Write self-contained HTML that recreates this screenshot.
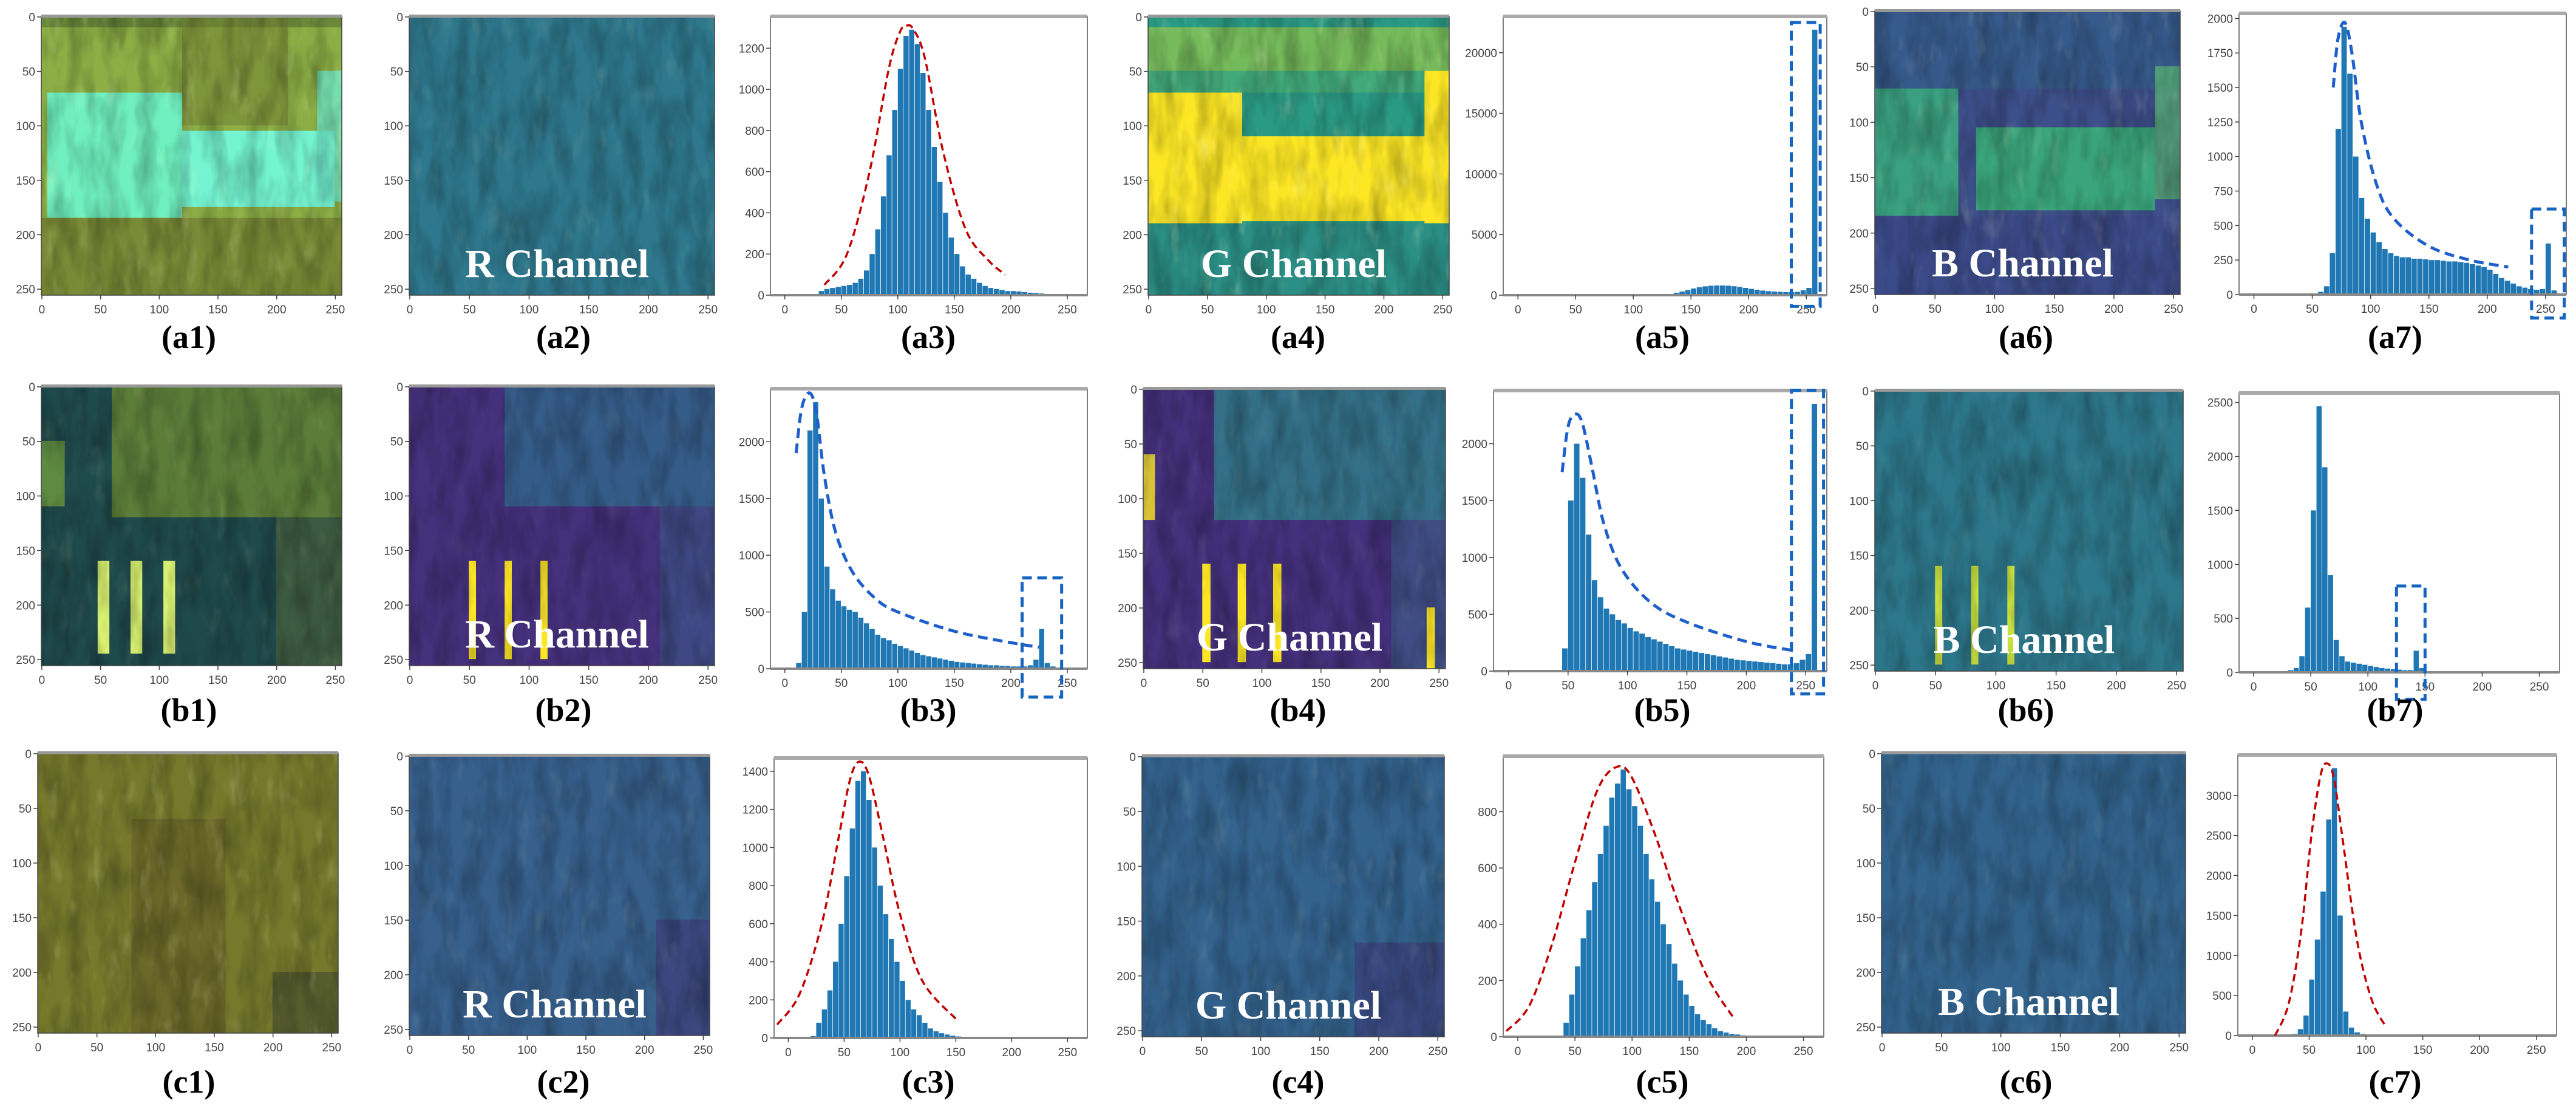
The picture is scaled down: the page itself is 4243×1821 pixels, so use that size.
<!DOCTYPE html>
<html><head><meta charset="utf-8"><title>Channel histograms</title>
<style>
html,body{margin:0;padding:0;background:#fff;}
svg{display:block;}
.tick{font-family:"Liberation Sans",sans-serif;font-size:19px;fill:#444;}
.lab{font-family:"Liberation Serif",serif;font-weight:bold;font-size:54px;fill:#000;}
.ch{font-family:"Liberation Serif",serif;font-weight:bold;font-size:66px;fill:#fff;}
</style></head>
<body>
<svg id="fig" width="4243" height="1821" viewBox="0 0 4243 1821" xmlns="http://www.w3.org/2000/svg">
<defs>
<filter id="tex" x="0" y="0" width="100%" height="100%">
<feTurbulence type="fractalNoise" baseFrequency="0.035 0.012" numOctaves="3" seed="4"/>
<feColorMatrix type="matrix" values="0 0 0 0 0  0 0 0 0 0  0 0 0 0 0  0 0 0 -1.4 0.9"/>
</filter>
<filter id="tex2" x="0" y="0" width="100%" height="100%">
<feTurbulence type="fractalNoise" baseFrequency="0.04 0.015" numOctaves="3" seed="9"/>
<feColorMatrix type="matrix" values="0 0 0 0 1  0 0 0 0 1  0 0 0 0 0.6  0 0 0 2.2 -1.3"/>
</filter>
</defs>
</svg>
<script>
// ---------- histogram data (bin width 5, bins start at 0) ----------
const binStarts = [0,5,10,15,20,25,30,35,40,45,50,55,60,65,70,75,80,85,90,95,100,105,110,115,120,125,130,135,140,145,150,155,160,165,170,175,180,185,190,195,200,205,210,215,220,225,230,235,240,245,250,255];
const xTicks = [0,50,100,150,200,250];
const imgTicks = [0,50,100,150,200,250];
const a3Counts = [0,0,0,0,0,0,20,30,35,40,45,50,60,80,120,200,320,480,680,900,1100,1260,1290,1220,1080,900,720,550,400,280,200,140,100,80,60,45,35,30,25,20,20,18,15,12,10,8,5,3,1,0,0,0];
const a5Counts = [0,0,0,0,0,0,0,0,0,0,0,0,0,0,0,0,0,0,0,0,0,0,0,0,20,50,100,200,300,420,550,650,730,780,800,800,780,740,680,600,520,450,380,330,300,280,260,250,280,400,600,21900];
const a7Counts = [0,0,0,0,0,0,0,0,0,0,0,20,60,300,1200,1940,1600,1000,700,550,450,380,330,300,280,270,270,260,260,255,250,250,245,240,240,235,230,220,210,200,180,150,120,100,80,60,50,40,35,40,370,30];
const b3Counts = [0,0,50,500,2100,2350,1500,900,700,600,550,520,500,450,400,350,300,270,250,220,200,180,160,140,120,110,100,90,80,70,60,55,50,45,40,35,30,30,25,25,20,20,20,30,80,350,50,20,0,0,0,0];
const b5Counts = [0,0,0,0,0,0,0,0,0,200,1500,2000,1700,1200,800,650,550,500,450,420,380,350,330,300,280,260,240,220,200,190,180,170,160,150,140,130,120,110,100,95,90,85,80,75,70,65,60,60,70,100,150,2350];
const b7Counts = [0,0,0,0,0,10,20,40,150,600,1500,2465,1900,900,300,150,100,90,80,70,60,50,40,35,30,25,20,20,200,40,10,5,2,0,0,0,0,0,0,0,0,0,0,0,0,0,0,0,0,0,0,0];
const c3Counts = [0,0,0,0,10,80,150,250,400,600,850,1100,1350,1400,1250,1000,800,650,520,400,300,200,150,120,80,50,35,25,18,12,8,5,3,2,1,0,0,0,0,0,0,0,0,0,0,0,0,0,0,0,0,0];
const c5Counts = [0,0,0,0,0,0,0,0,50,150,250,350,450,550,650,750,850,900,950,880,820,750,650,560,480,400,330,260,200,150,110,80,60,45,30,20,15,10,8,5,3,2,1,0,0,0,0,0,0,0,0,0];
const c7Counts = [0,0,0,0,0,0,0,20,80,250,700,1200,1800,2700,3340,1500,300,100,40,20,10,5,0,0,0,0,0,0,0,0,0,0,0,0,0,0,0,0,0,0,0,0,0,0,0,0,0,0,0,0,0,0];
// y tick labels
const a3YTicks = [0,200,400,600,800,1000,1200];
const a5YTicks = [0,5000,10000,15000,20000];
const a7YTicks = [0,250,500,750,1000,1250,1500,1750,2000];
const b3YTicks = [0,500,1000,1500,2000];
const b5YTicks = [0,500,1000,1500,2000];
const b7YTicks = [0,500,1000,1500,2000,2500];
const c3YTicks = [0,200,400,600,800,1000,1200,1400];
const c5YTicks = [0,200,400,600,800];
const c7YTicks = [0,500,1000,1500,2000,2500,3000];
// dashed envelope annotations (x value, count)
const a3CurveX = [35,55,75,92,102,108,114,124,140,160,180,195];
const a3CurveY = [50,200,600,1100,1280,1310,1290,1150,700,320,170,100];
const a7CurveX = [68,72,78,84,92,105,120,150,185,218];
const a7CurveY = [1500,1850,1970,1750,1250,800,550,350,250,200];
const b3CurveX = [10,15,22,28,35,45,60,80,100,150,200,225];
const b3CurveY = [1900,2300,2430,2250,1700,1200,850,620,500,330,230,190];
const b5CurveX = [45,50,56,62,70,80,95,120,150,200,240];
const b5CurveY = [1750,2150,2260,2180,1800,1300,900,600,430,260,180];
const c3CurveX = [-10,10,30,45,55,63,72,85,100,120,150];
const c3CurveY = [70,230,600,1050,1350,1450,1380,1050,650,300,100];
const c5CurveX = [-10,10,30,50,70,87,100,120,140,165,190];
const c5CurveY = [20,110,330,620,880,960,920,720,480,220,60];
const c7CurveX = [20,32,43,52,60,66,72,80,92,105,118];
const c7CurveY = [0,400,1300,2500,3250,3400,3200,2400,1200,450,100];
// highlight boxes [xmin,xmax,ymin,ymax] in data units
const a5Box = [237,262,-920,22490];
const a7Box = [238,266,-170,620];
const b3Box = [210,245,-250,800];
const b5Box = [238,265,-200,2470];
const b7Box = [125,150,-250,800];

const NS='http://www.w3.org/2000/svg';
const svg=document.getElementById('fig');
function mk(tag,attrs,parent){const e=document.createElementNS(NS,tag);for(const k in attrs)e.setAttribute(k,attrs[k]);(parent||svg).appendChild(e);return e;}
function smoothPath(P){
  let d='M'+P[0][0]+','+P[0][1];
  for(let i=0;i<P.length-1;i++){
    const p0=P[Math.max(i-1,0)],p1=P[i],p2=P[i+1],p3=P[Math.min(i+2,P.length-1)];
    const c1x=p1[0]+(p2[0]-p0[0])/6,c1y=p1[1]+(p2[1]-p0[1])/6;
    const c2x=p2[0]-(p3[0]-p1[0])/6,c2y=p2[1]-(p3[1]-p1[1])/6;
    d+=' C'+c1x+','+c1y+' '+c2x+','+c2y+' '+p2[0]+','+p2[1];
  }
  return d;
}

function drawHist(id,box,counts,yticks,cx,cy,color,hbox,labelX,labelY,label){
  const [x0,x1,y0,y1]=box;
  const g=mk('g',{});
  
  
  const ymax=Math.max(...counts)*1.05;
  const xmin=-12.75,xmax=267.75;
  const sx=v=>x0+(v-xmin)/(xmax-xmin)*(x1-x0);
  const sy=v=>y1-v/ymax*(y1-y0);
  mk('rect',{x:x0,y:y0,width:x1-x0,height:y1-y0,fill:'#fff',stroke:'#555','stroke-width':1.5},g);
  mk('rect',{x:x0,y:y0-3,width:x1-x0,height:6,fill:'#aaa'},g);
  counts.forEach((c,i)=>{
    if(c<=0)return;
    const bx=sx(binStarts[i]),bw=sx(binStarts[i]+5)-bx;
    const r=mk('rect',{x:bx,y:sy(c),width:Math.max(bw-0.8,1),height:y1-sy(c),fill:'#1f77b4'},g);
    
    
  });
  mk('line',{x1:x0,y1:y1,x2:x1,y2:y1,stroke:'#888','stroke-width':4},g);
  xTicks.forEach(t=>{
    mk('line',{x1:sx(t),y1:y1,x2:sx(t),y2:y1+7,stroke:'#444','stroke-width':1.5},g);
    const tx=mk('text',{x:sx(t),y:y1+30,'text-anchor':'middle',class:'tick'},g);tx.textContent=t;
  });
  yticks.forEach(t=>{
    mk('line',{x1:x0-7,y1:sy(t),x2:x0,y2:sy(t),stroke:'#444','stroke-width':1.5},g);
    const tx=mk('text',{x:x0-10,y:sy(t)+7,'text-anchor':'end',class:'tick'},g);tx.textContent=t;
  });
  if(cx){
    const P=cx.map((v,i)=>[sx(v),sy(cy[i])]);
    const red=color==='#c00000';
    const p=mk('path',{d:smoothPath(P),fill:'none',stroke:color,'stroke-width':red?3.5:5,'stroke-dasharray':red?'12 7':'16 9','stroke-linejoin':'round'},g);
    
    
  }
  if(hbox){
    const r=mk('rect',{x:sx(hbox[0]),y:sy(hbox[3]),width:sx(hbox[1])-sx(hbox[0]),height:sy(hbox[2])-sy(hbox[3]),fill:'none',stroke:'#1565c0','stroke-width':5,'stroke-dasharray':'16 9'},g);
    
    
  }
  const l=mk('text',{x:labelX,y:labelY,'text-anchor':'middle',class:'lab'});
  l.textContent=label;
  
  
}

function drawImg(id,box,base,patches,channel,labelX,labelY,label,bright){
  const [x0,x1,y0,y1]=box;
  const g=mk('g',{});
  
  
  const sx=v=>x0+v/256*(x1-x0), sy=v=>y0+v/256*(y1-y0);
  mk('rect',{x:x0,y:y0,width:x1-x0,height:y1-y0,fill:base},g);
  patches.forEach(p=>{mk('rect',{x:sx(p[0]),y:sy(p[1]),width:sx(p[2])-sx(p[0]),height:sy(p[3])-sy(p[1]),fill:p[4],opacity:p[5]||1},g);});
  mk('rect',{x:x0,y:y0,width:x1-x0,height:y1-y0,fill:'#000',filter:'url(#tex)',opacity:0.35},g);
  if(bright) mk('rect',{x:x0,y:y0,width:x1-x0,height:y1-y0,fill:'#fff',filter:'url(#tex2)',opacity:bright},g);
  mk('rect',{x:x0,y:y0,width:x1-x0,height:y1-y0,fill:'none',stroke:'#444','stroke-width':1.5},g);
  mk('rect',{x:x0,y:y0-3,width:x1-x0,height:5,fill:'#999'},g);
  imgTicks.forEach(t=>{
    mk('line',{x1:sx(t+0.5),y1:y1,x2:sx(t+0.5),y2:y1+7,stroke:'#444','stroke-width':1.5},g);
    const a=mk('text',{x:sx(t+0.5),y:y1+30,'text-anchor':'middle',class:'tick'},g);a.textContent=t;
    mk('line',{x1:x0-7,y1:sy(t+0.5),x2:x0,y2:sy(t+0.5),stroke:'#444','stroke-width':1.5},g);
    const b=mk('text',{x:x0-10,y:sy(t+0.5)+7,'text-anchor':'end',class:'tick'},g);b.textContent=t;
  });
  if(channel){
    const c=mk('text',{x:(x0+x1)/2-8,y:y1-30,'text-anchor':'middle',class:'ch'},g);
    c.textContent=channel;
    
    
  }
  const l=mk('text',{x:labelX,y:labelY,'text-anchor':'middle',class:'lab'});
  l.textContent=label;
  
  
}

// Row a
drawImg('a1',[68,563,27,486],'#8cae45',[[0,0,256,10,'#6a8a3a'],[5,70,120,185,'#70f0c0'],[120,105,250,175,'#74f4d0'],[235,50,256,170,'#70e8c8',0.8],[0,185,256,256,'#7a8a36'],[120,0,210,100,'#6f7d32',0.5]],null,311,573,'(a1)',0.25);
drawImg('a2',[674,1177,27,486],'#2f7a8c',[[0,0,256,256,'#2d6f8e',0.3]],'R Channel',928,573,'(a2)',0.15);
drawHist('a3',[1269,1791,27,486],a3Counts,a3YTicks,a3CurveX,a3CurveY,'#c00000',null,1529,573,'(a3)');
drawImg('a4',[1891,2387,27,486],'#2a9a84',[[0,10,256,50,'#a8d040',0.6],[0,50,256,70,'#5ab870',0.5],[0,70,80,190,'#fde725'],[80,110,256,188,'#fde725'],[235,50,256,190,'#fde725'],[0,190,256,256,'#2c8a86',0.7]],'G Channel',2138,573,'(a4)',0.3);
drawHist('a5',[2476,3009,27,486],a5Counts,a5YTicks,null,null,null,a5Box,2738,573,'(a5)');
drawImg('a6',[3088,3591,18,485],'#3d4f8a',[[0,0,256,70,'#32628c',0.6],[0,70,70,185,'#3aa080'],[85,105,235,180,'#3aa47c'],[235,50,256,170,'#5ab870',0.7],[0,185,256,256,'#3b4a88']],'B Channel',3337,573,'(a6)',0.2);
drawHist('a7',[3688,4227,22,485],a7Counts,a7YTicks,a7CurveX,a7CurveY,'#1f5fcc',a7Box,3945,573,'(a7)');
// Row b
drawImg('b1',[68,563,636,1096],'#1f4a4c',[[60,0,256,120,'#6a8a34',0.8],[0,50,20,110,'#8ab63a',0.6],[200,120,256,256,'#5a6a36',0.5],[48,160,58,245,'#d8f070'],[76,160,86,245,'#d8f070'],[104,160,114,245,'#d8f070']],null,311,1187,'(b1)',0.12);
drawImg('b2',[674,1177,636,1096],'#45307c',[[80,0,256,110,'#2f6f8e',0.7],[210,110,256,256,'#3a5f8c',0.5],[50,160,56,250,'#fde725'],[80,160,86,250,'#fde725'],[110,160,116,250,'#fde725']],'R Channel',928,1187,'(b2)',0.06);
drawHist('b3',[1269,1791,640,1101],b3Counts,b3YTicks,b3CurveX,b3CurveY,'#1f5fcc',b3Box,1529,1187,'(b3)');
drawImg('b4',[1883,2381,640,1101],'#44307c',[[60,0,256,120,'#2f7f8a',0.8],[0,60,10,120,'#fde725',0.8],[210,110,256,256,'#3a6a8c',0.5],[50,160,57,250,'#fde725'],[80,160,87,250,'#fde725'],[110,160,117,250,'#fde725'],[240,200,247,256,'#fde725']],'G Channel',2138,1187,'(b4)',0.1);
drawHist('b5',[2460,3009,643,1105],b5Counts,b5YTicks,b5CurveX,b5CurveY,'#1f5fcc',b5Box,2738,1187,'(b5)');
drawImg('b6',[3088,3596,643,1105],'#2f7a8c',[[0,0,256,256,'#2c6f8a',0.3],[50,160,56,250,'#c8e040'],[80,160,86,250,'#c8e040'],[110,160,116,250,'#c8e040']],'B Channel',3337,1187,'(b6)',0.08);
drawHist('b7',[3688,4216,647,1107],b7Counts,b7YTicks,null,null,null,b7Box,3945,1187,'(b7)');
// Row c
drawImg('c1',[62,557,1240,1701],'#6f6e2c',[[0,0,256,256,'#82872e',0.4],[80,60,160,256,'#5a4a26',0.35],[200,200,256,256,'#34402e',0.5]],null,311,1799,'(c1)',0.25);
drawImg('c2',[674,1169,1244,1705],'#3d5a8c',[[0,0,256,256,'#2e6e8e',0.35],[210,150,256,256,'#40226a',0.4]],'R Channel',928,1799,'(c2)',0.12);
drawHist('c3',[1275,1791,1248,1709],c3Counts,c3YTicks,c3CurveX,c3CurveY,'#c00000',null,1529,1799,'(c3)');
drawImg('c4',[1881,2379,1245,1707],'#375c8c',[[0,0,256,256,'#2e6e8e',0.35],[180,170,256,256,'#40226a',0.4]],'G Channel',2138,1799,'(c4)',0.14);
drawHist('c5',[2476,3004,1245,1707],c5Counts,c5YTicks,c5CurveX,c5CurveY,'#c00000',null,2738,1799,'(c5)');
drawImg('c6',[3099,3600,1240,1701],'#2f6a8e',[[0,0,256,256,'#3b528b',0.3]],'B Channel',3337,1799,'(c6)',0.1);
drawHist('c7',[3686,4211,1243,1705],c7Counts,c7YTicks,c7CurveX,c7CurveY,'#c00000',null,3945,1799,'(c7)');
</script>
</body></html>
